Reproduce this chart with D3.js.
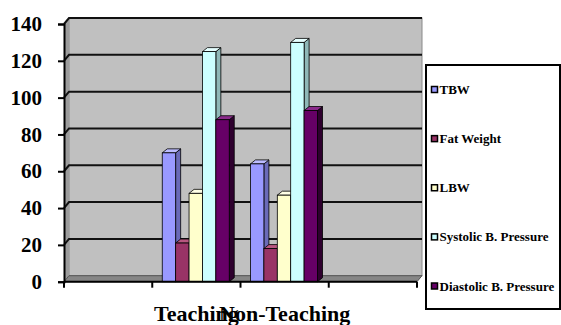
<!DOCTYPE html>
<html>
<head>
<meta charset="utf-8">
<script src="https://cdn.jsdelivr.net/npm/d3@7"></script>
<style>
  html, body { margin: 0; padding: 0; background: #ffffff; }
  svg { display: block; }
</style>
</head>
<body>
<svg id="chart" width="561" height="325"></svg>
<script>
// Group labels along the category axis
const categories = ["Teaching", "Non-Teaching"];
// One entry per series, in legend order
const seriesNames = ["TBW", "Fat Weight", "LBW", "Systolic B. Pressure", "Diastolic B. Pressure"];
const teachingValues = [70, 21, 48, 125, 88];
const nonTeachingValues = [64, 18, 47, 130, 93];
const yTicks = [0, 20, 40, 60, 80, 100, 120, 140];

const serif = "'Liberation Serif', 'Times New Roman', serif";

const seriesColors = {
  "TBW":                   { front: "#9999ff", side: "#6a6ab8", top: "#bcbcff" },
  "Fat Weight":            { front: "#993366", side: "#6a2347", top: "#b8567f" },
  "LBW":                   { front: "#ffffcc", side: "#b8b88f", top: "#ffffe6" },
  "Systolic B. Pressure":  { front: "#ccffff", side: "#8fb8b8", top: "#e6ffff" },
  "Diastolic B. Pressure": { front: "#660066", side: "#2e002e", top: "#8a2a8a" }
};

const rows = categories.map((c, i) => ({
  category: c,
  values: seriesNames.map((s, j) => ({ series: s, value: [teachingValues, nonTeachingValues][i][j] }))
}));

const svg = d3.select("#chart");

// plot frame (front plane) and 3D depth offsets
const plotLeft = 64, plotRight = 417, plotTop = 24, plotBottom = 281.7;
const wallDx = 5, wallDy = -6;   // back wall offset
const barDx = 5, barDy = -4;     // bar depth

// empty slots on each side of the two groups
const xDomain = ["__padL", ...categories, "__padR"];
const x0 = d3.scaleBand().domain(xDomain).range([plotLeft, plotRight]).padding(0);
const x1 = d3.scaleBand().domain(seriesNames).range([10, 77]).padding(0);
const y = d3.scaleLinear().domain([0, 140]).range([plotBottom, plotTop]);

// back wall
svg.append("rect")
  .attr("x", plotLeft + wallDx).attr("y", y(140) + wallDy)
  .attr("width", plotRight - plotLeft).attr("height", y(0) - y(140))
  .attr("fill", "#c0c0c0").attr("stroke", "#8a8a8a").attr("stroke-width", 1);

// left side wall
svg.append("polygon")
  .attr("points", [[plotLeft, y(0)], [plotLeft, y(140)], [plotLeft + wallDx, y(140) + wallDy], [plotLeft + wallDx, y(0) + wallDy]].join(" "))
  .attr("fill", "#9c9c9c");

// floor
svg.append("polygon")
  .attr("points", [[plotLeft, y(0)], [plotRight, y(0)], [plotRight + wallDx, y(0) + wallDy], [plotLeft + wallDx, y(0) + wallDy]].join(" "))
  .attr("fill", "#868686").attr("stroke", "#555").attr("stroke-width", 1);

// gridlines: diagonal on the side wall, horizontal along the back wall
const grid = svg.append("g").attr("fill", "none").attr("stroke", "#111").attr("stroke-width", 2);
yTicks.filter(v => v > 0).forEach(v => {
  grid.append("polyline")
    .attr("points", [[plotLeft, y(v)], [plotLeft + wallDx, y(v) + wallDy], [plotRight + wallDx, y(v) + wallDy]].join(" "));
});

// bars with front, side and top faces
const groups = svg.append("g").selectAll("g")
  .data(rows).join("g")
  .attr("transform", d => `translate(${x0(d.category)},0)`);

groups.each(function(row) {
  const g = d3.select(this);
  row.values.forEach(d => {
    const c = seriesColors[d.series];
    const bx = x1(d.series), bw = x1.bandwidth();
    const yt = y(d.value), yb = y(0);
    // side face
    g.append("polygon")
      .attr("points", [[bx + bw, yb], [bx + bw, yt], [bx + bw + barDx, yt + barDy], [bx + bw + barDx, yb + barDy]].join(" "))
      .attr("fill", c.side).attr("stroke", "#000").attr("stroke-width", 0.8);
    // top face
    g.append("polygon")
      .attr("points", [[bx, yt], [bx + barDx, yt + barDy], [bx + bw + barDx, yt + barDy], [bx + bw, yt]].join(" "))
      .attr("fill", c.top).attr("stroke", "#000").attr("stroke-width", 0.8);
    // front face
    g.append("rect")
      .attr("x", bx).attr("y", yt).attr("width", bw).attr("height", yb - yt)
      .attr("fill", c.front).attr("stroke", "#000").attr("stroke-width", 0.8);
  });
});

// value axis
const yAxis = d3.axisLeft(y).tickValues(yTicks).tickSize(6).tickPadding(16).tickFormat(d3.format("d"));
const yg = svg.append("g").attr("transform", `translate(${plotLeft},0)`).call(yAxis);
yg.select(".domain").attr("stroke", "#000").attr("stroke-width", 2);
yg.selectAll(".tick line").attr("stroke", "#000").attr("stroke-width", 2);
yg.selectAll(".tick text")
  .style("font-family", serif).style("font-weight", "bold").style("font-size", "21px")
  .attr("fill", "#000");

// category axis: ticks on the band boundaries
const xg = svg.append("g");
xg.append("line").attr("x1", plotLeft).attr("x2", plotRight).attr("y1", y(0)).attr("y2", y(0))
  .attr("stroke", "#000").attr("stroke-width", 2);
const boundaries = xDomain.map(d => x0(d)).concat([x0(xDomain[xDomain.length - 1]) + x0.bandwidth()]);
xg.selectAll("line.tick").data(boundaries).join("line")
  .attr("class", "tick")
  .attr("x1", d => d).attr("x2", d => d).attr("y1", y(0)).attr("y2", y(0) + 6)
  .attr("stroke", "#000").attr("stroke-width", 2);
xg.selectAll("text").data(categories).join("text")
  .attr("x", d => x0(d) + x0.bandwidth() / 2).attr("y", 321)
  .attr("text-anchor", "middle")
  .style("font-family", serif).style("font-weight", "bold").style("font-size", "22px")
  .attr("fill", "#000")
  .text(d => d);

// legend
const legend = svg.append("g");
legend.append("rect")
  .attr("x", 426).attr("y", 65).attr("width", 134).attr("height", 244)
  .attr("fill", "#fff").attr("stroke", "#000").attr("stroke-width", 2);
const ly = d3.scalePoint().domain(seriesNames).range([89.5, 286]);
const items = legend.selectAll("g.item").data(seriesNames).join("g")
  .attr("class", "item")
  .attr("transform", d => `translate(0,${ly(d)})`);
items.append("rect")
  .attr("x", 431.5).attr("y", -3).attr("width", 6).attr("height", 6)
  .attr("fill", d => seriesColors[d].front).attr("stroke", "#000").attr("stroke-width", 1.5);
items.append("text")
  .attr("x", 439.5).attr("y", 0).attr("dy", "0.35em")
  .style("font-family", serif).style("font-weight", "bold").style("font-size", "13px")
  .attr("fill", "#000")
  .text(d => d);
</script>
</body>
</html>
